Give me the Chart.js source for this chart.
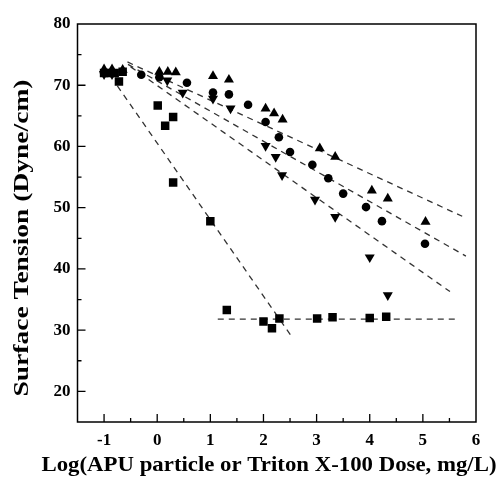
<!DOCTYPE html>
<html>
<head>
<meta charset="utf-8">
<script src="https://cdn.jsdelivr.net/npm/chart.js@4"></script>
<style>
    body { margin: 0; background: #fff; }
</style>
</head>
<body>
<canvas id="myChart" width="503" height="477"></canvas>
<script>
// Square markers
const squareX = [-1.0, -0.9, -0.8, -0.65, -0.72, 0.01, 0.30, 0.15, 0.30, 1.0, 1.31, 2.0, 2.16, 2.30, 3.01, 3.30, 4.0, 4.31];
const squareY = [72.0, 72.0, 72.0, 72.2, 70.6, 66.7, 64.8, 63.4, 54.1, 47.8, 33.3, 31.4, 30.3, 31.9, 31.9, 32.1, 32.0, 32.2];

// Circle markers
const circleX = [-1.0, -0.85, -0.3, 0.04, 0.56, 1.05, 1.35, 1.71, 2.04, 2.29, 2.5, 2.92, 3.22, 3.5, 3.93, 4.23, 5.04];
const circleY = [72.0, 72.0, 71.7, 71.3, 70.4, 68.8, 68.5, 66.8, 64.0, 61.5, 59.1, 57.0, 54.8, 52.3, 50.1, 47.8, 44.1];

// Up triangles
const triUpX = [-1.0, -0.85, -0.65, 0.04, 0.2, 0.35, 1.05, 1.35, 2.04, 2.2, 2.36, 3.06, 3.35, 4.04, 4.34, 5.05];
const triUpY = [72.6, 72.6, 72.5, 72.2, 72.2, 72.1, 71.5, 70.9, 66.2, 65.4, 64.4, 59.7, 58.3, 52.8, 51.5, 47.7];

// Down triangles
const triDownX = [-1.0, -0.85, 0.19, 0.48, 1.05, 1.38, 2.04, 2.23, 2.35, 2.97, 3.35, 4.0, 4.34];
const triDownY = [71.8, 71.8, 70.8, 68.8, 67.8, 66.2, 60.1, 58.3, 55.3, 51.3, 48.5, 41.9, 35.7];

// Dashed fit lines (end points)
const fitUpX = [-0.56, 5.74];
const fitUpY = [73.8, 48.6];
const fitCircleX = [-0.55, 5.81];
const fitCircleY = [73.4, 42.1];
const fitDownX = [-0.5, 5.51];
const fitDownY = [73.0, 36.3];
const fitSquareX = [-0.75, 2.55];
const fitSquareY = [69.9, 28.7];
const fitFlatX = [1.14, 5.68];
const fitFlatY = [31.8, 31.8];

// Axes
const xTicks = [-1, 0, 1, 2, 3, 4, 5, 6];
const yTicks = [20, 30, 40, 50, 60, 70, 80];
const xTitle = 'Log(APU particle or Triton X-100 Dose, mg/L)';
const yTitle = 'Surface Tension (Dyne/cm)';

const serif = '"Liberation Serif", "DejaVu Serif", serif';

function toPoints(xs, ys) {
    return xs.map((v, i) => ({x: v, y: ys[i]}));
}

function markerSet(xs, ys, style, radius, rotation) {
    return {
        type: 'scatter',
        data: toPoints(xs, ys),
        pointStyle: style,
        pointRadius: radius,
        pointRotation: rotation || 0,
        pointBackgroundColor: '#000',
        pointBorderColor: '#000',
        pointBorderWidth: 0,
        order: 1
    };
}

function dashedLine(xs, ys) {
    return {
        type: 'line',
        data: toPoints(xs, ys),
        borderColor: '#333',
        borderWidth: 1.3,
        borderDash: [6, 5],
        pointRadius: 0,
        fill: false,
        order: 2
    };
}

// Box, inward ticks and axis titles
const framePlugin = {
    id: 'frame',
    afterDatasetsDraw(chart) {
        const ctx = chart.ctx;
        const a = chart.chartArea;
        const x = chart.scales.x;
        const y = chart.scales.y;
        ctx.save();
        ctx.strokeStyle = '#000';
        ctx.lineWidth = 1.5;
        ctx.strokeRect(a.left, a.top, a.right - a.left, a.bottom - a.top);

        ctx.lineWidth = 1.3;
        ctx.beginPath();
        for (let v = -1; v < 6; v += 0.5) {
            let px = x.getPixelForValue(v);
            let len = Number.isInteger(v) ? 8 : 4;
            ctx.moveTo(px, a.bottom);
            ctx.lineTo(px, a.bottom - len);
        }
        for (let v = 20; v < 80; v += 5) {
            let py = y.getPixelForValue(v);
            let len = v % 10 === 0 ? 8 : 4;
            ctx.moveTo(a.left, py);
            ctx.lineTo(a.left + len, py);
        }
        ctx.stroke();

        ctx.fillStyle = '#000';
        ctx.font = 'bold 22px ' + serif;
        ctx.textAlign = 'center';
        ctx.textBaseline = 'middle';

        // x title
        let w = ctx.measureText(xTitle).width;
        ctx.save();
        ctx.translate(269, 465);
        ctx.scale(455 / w, 1);
        ctx.fillText(xTitle, 0, 0);
        ctx.restore();

        // y title
        w = ctx.measureText(yTitle).width;
        ctx.save();
        ctx.translate(22, 238);
        ctx.rotate(-Math.PI / 2);
        ctx.scale(317 / w, 1);
        ctx.fillText(yTitle, 0, 0);
        ctx.restore();

        ctx.restore();
    }
};

let ctx = document.getElementById('myChart').getContext('2d');
let myChart = new Chart(ctx, {
    data: {
        datasets: [
            markerSet(squareX, squareY, 'rect', 6),
            markerSet(circleX, circleY, 'circle', 4.3),
            markerSet(triUpX, triUpY, 'triangle', 5.8),
            markerSet(triDownX, triDownY, 'triangle', 5.8, 180),
            dashedLine(fitUpX, fitUpY),
            dashedLine(fitCircleX, fitCircleY),
            dashedLine(fitDownX, fitDownY),
            dashedLine(fitSquareX, fitSquareY),
            dashedLine(fitFlatX, fitFlatY)
        ]
    },
    options: {
        responsive: false,
        animation: false,
        layout: {
            padding: {top: 24, right: 27, left: 0, bottom: 0}
        },
        scales: {
            x: {
                type: 'linear',
                min: -1.5,
                max: 6,
                grid: {display: false, drawTicks: false},
                border: {display: false},
                afterBuildTicks: s => { s.ticks = xTicks.map(v => ({value: v})); },
                afterFit: s => { s.height = 55; },
                ticks: {
                    color: '#000',
                    padding: 8,
                    maxRotation: 0,
                    font: {family: serif, size: 17, weight: 'bold'},
                    callback: v => String(v)
                }
            },
            y: {
                type: 'linear',
                min: 15,
                max: 80,
                grid: {display: false, drawTicks: false},
                border: {display: false},
                afterBuildTicks: s => { s.ticks = yTicks.map(v => ({value: v})); },
                afterFit: s => { s.width = 77.5; },
                ticks: {
                    color: '#000',
                    padding: 7,
                    font: {family: serif, size: 17, weight: 'bold'},
                    callback: v => String(v)
                }
            }
        },
        plugins: {
            legend: {display: false},
            tooltip: {enabled: false}
        }
    },
    plugins: [framePlugin]
});
</script>
</body>
</html>
